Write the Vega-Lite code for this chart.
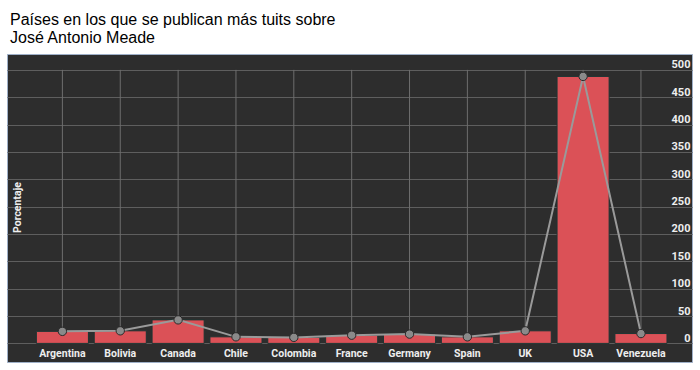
{
  "$schema": "https://vega.github.io/schema/vega-lite/v6.json",
  "autosize": {"type": "none"},
  "width": 685,
  "height": 308,
  "padding": {"left": 7, "top": 54, "right": 8, "bottom": 8},
  "background": "white",
  "title": {
    "text": ["Países en los que se publican más tuits sobre", "José Antonio Meade"],
    "anchor": "start",
    "frame": "group",
    "font": "Liberation Sans",
    "fontSize": 16,
    "fontWeight": "normal",
    "color": "#000000",
    "lineHeight": 18,
    "offset": 8,
    "dx": 3
  },
  "config": {
    "view": {"fill": "#2d2d2d", "stroke": "#9fb0c8", "strokeWidth": 1}
  },
  "data": {
    "values": [
      {"pais": "Argentina", "valor": 22},
      {"pais": "Bolivia", "valor": 23},
      {"pais": "Canada", "valor": 43},
      {"pais": "Chile", "valor": 12},
      {"pais": "Colombia", "valor": 11},
      {"pais": "France", "valor": 15},
      {"pais": "Germany", "valor": 17},
      {"pais": "Spain", "valor": 12},
      {"pais": "UK", "valor": 23},
      {"pais": "USA", "valor": 488},
      {"pais": "Venezuela", "valor": 18}
    ]
  },
  "encoding": {
    "x": {
      "field": "pais",
      "type": "nominal",
      "sort": null,
      "scale": {"paddingInner": 0.1, "paddingOuter": 0.47, "align": 0.54},
      "axis": {
        "title": null,
        "orient": "bottom",
        "labelAngle": 0,
        "labelFont": "Roboto",
        "labelFontWeight": "bold",
        "labelFontSize": 10.5,
        "labelColor": "#eeeeee",
        "labelBaseline": "alphabetic",
        "labelPadding": -6,
        "ticks": false,
        "tickSize": 0,
        "domain": false,
        "grid": false
      }
    }
  },
  "layer": [
    {
      "mark": {"type": "rule", "color": "#6e6e6e", "strokeWidth": 1},
      "encoding": {
        "y": {"datum": 0, "type": "quantitative", "axis": null},
        "y2": {"datum": 500}
      }
    },
    {
      "mark": {"type": "bar", "fill": "#db5157", "stroke": "#1d3533", "strokeWidth": 1},
      "encoding": {
        "y": {
          "field": "valor",
          "type": "quantitative",
          "scale": {"domain": [-34, 529], "nice": false, "zero": false},
          "axis": {
            "orient": "right",
            "title": null,
            "values": [0, 50, 100, 150, 200, 250, 300, 350, 400, 450, 500],
            "grid": true,
            "gridColor": "#5e5e5e",
            "gridWidth": 1,
            "ticks": false,
            "tickSize": 0,
            "domain": false,
            "labelFont": "Roboto",
            "labelFontWeight": "bold",
            "labelFontSize": 11,
            "labelColor": "#eeeeee",
            "labelAlign": "right",
            "labelBaseline": "alphabetic",
            "labelPadding": -2,
            "labelOffset": -2
          }
        }
      }
    },
    {
      "mark": {"type": "line", "color": "#9a9a9a", "strokeWidth": 2},
      "encoding": {
        "y": {
          "field": "valor",
          "type": "quantitative",
          "axis": {
            "orient": "left",
            "title": "Porcentaje",
            "labels": false,
            "ticks": false,
            "domain": false,
            "grid": false,
            "titleFont": "Roboto",
            "titleFontWeight": "bold",
            "titleFontSize": 10.5,
            "titleColor": "#eeeeee",
            "titleAlign": "center",
            "titleAngle": -90,
            "titleBaseline": "alphabetic",
            "titleX": 13,
            "titleY": 153
          }
        }
      }
    },
    {
      "mark": {"type": "point", "filled": true, "fill": "#8a8a8a", "stroke": "#2a2a2a", "strokeWidth": 1, "size": 70, "opacity": 1},
      "encoding": {
        "y": {"field": "valor", "type": "quantitative", "axis": null}
      }
    }
  ],
  "resolve": {"axis": {"y": "independent"}}
}
